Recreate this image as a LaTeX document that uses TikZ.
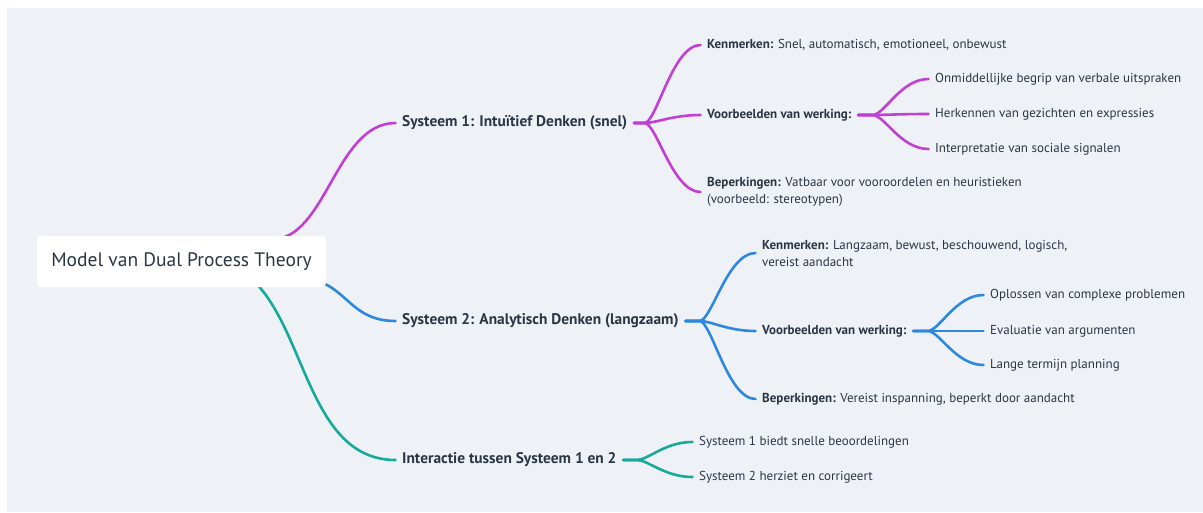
\documentclass[tikz,border=0pt]{standalone}
\usepackage{fontspec}
\setmainfont{PT Sans}
\usetikzlibrary{calc}

\definecolor{panelgray}{HTML}{EEF2F6}
\definecolor{ink}{HTML}{2B3645}
\definecolor{mmPurple}{HTML}{C23FD3}
\definecolor{mmBlue}{HTML}{2E88DF}
\definecolor{mmTeal}{HTML}{17A99A}

\pgfdeclarelayer{panel}
\pgfdeclarelayer{wires}
\pgfsetlayers{panel,wires,main}

\tikzset{
  txt/.style={anchor=west, inner xsep=6.5pt, inner ysep=2pt, text=ink,
    font=\fontsize{13}{17}\selectfont, align=left},
  topic/.style={txt, font=\fontsize{15.4}{18}\selectfont\bfseries},
  rootbox/.style={fill=white, rounded corners=4pt, minimum width=289pt,
    minimum height=51pt, text=ink, font=\fontsize{19.5}{22}\selectfont},
  wire/.style={line width=2.6pt, line cap=round, draw=#1},
  % straight stub from the parent, then an S-bend into the child
  fan/.style={to path={let \p1=(\tikztostart), \p2=(\tikztotarget) in
    -- (\x2-56pt,\y1) .. controls +(12pt,0) and +(-28pt,0) .. (\tikztotarget) \tikztonodes}},
}

\begin{document}
\begin{tikzpicture}[x=1pt,y=-1pt]
\useasboundingbox (0,0) rectangle (1203,512);
\begin{pgfonlayer}{panel}
  \fill[panelgray] (7,8) rectangle (1203,512);
\end{pgfonlayer}

% central topic
\node[rootbox] (root) at (181.5,261.5) {Model van Dual Process Theory};

% main branches
\node[topic] (s1) at (395.5,123) {Systeem 1: Intuïtief Denken (snel)};
\node[topic] (s2) at (395.5,321) {Systeem 2: Analytisch Denken (langzaam)};
\node[topic] (s3) at (395.5,460) {Interactie tussen Systeem 1 en 2};

% system 1
\node[txt] (k1) at (700.5,45) {\textbf{Kenmerken:} Snel, automatisch, emotioneel, onbewust};
\node[txt] (v1) at (700.5,115) {\textbf{Voorbeelden van werking:}};
\node[txt] (b1) at (700.5,192) {\textbf{Beperkingen:} Vatbaar voor vooroordelen en heuristieken\\(voorbeeld: stereotypen)};
\node[txt] (v1a) at (928.5,79) {Onmiddellijke begrip van verbale uitspraken};
\node[txt] (v1b) at (928.5,114) {Herkennen van gezichten en expressies};
\node[txt] (v1c) at (928.5,149) {Interpretatie van sociale signalen};

% system 2
\node[txt] (k2) at (755.5,253) {\textbf{Kenmerken:} Langzaam, bewust, beschouwend, logisch,\\vereist aandacht};
\node[txt] (v2) at (755.5,331) {\textbf{Voorbeelden van werking:}};
\node[txt] (b2) at (755.5,399) {\textbf{Beperkingen:} Vereist inspanning, beperkt door aandacht};
\node[txt] (v2a) at (983.5,295) {Oplossen van complexe problemen};
\node[txt] (v2b) at (983.5,331) {Evaluatie van argumenten};
\node[txt] (v2c) at (983.5,365) {Lange termijn planning};

% interaction
\node[txt] (i1) at (692.5,442) {Systeem 1 biedt snelle beoordelingen};
\node[txt] (i2) at (692.5,477) {Systeem 2 herziet en corrigeert};

\begin{pgfonlayer}{wires}
  % from the central topic (starting behind the box)
  \draw[wire=mmPurple] ($(root.center)+(90,-22)$) .. controls +(55,0) and +(-60,0) .. (s1.west);
  \draw[wire=mmBlue]   ($(root.center)+(115.5,16.5)$) .. controls +(50,0) and +(-50,0) .. (s2.west);
  \draw[wire=mmTeal]   ($(root.center)+(23,-0.5)$) .. controls +(105,0) and +(-107,0) .. (s3.west);

  \draw[wire=mmPurple] (s1.east) to[fan] (k1.west);
  \draw[wire=mmPurple] (s1.east) to[fan] (v1.west);
  \draw[wire=mmPurple] (s1.east) to[fan] (b1.west);
  \draw[wire=mmPurple] (v1.east) to[fan] (v1a.west);
  \draw[wire=mmPurple] (v1.east) to[fan] (v1b.west);
  \draw[wire=mmPurple] (v1.east) to[fan] (v1c.west);

  \draw[wire=mmBlue] (s2.east) to[fan] (k2.west);
  \draw[wire=mmBlue] (s2.east) to[fan] (v2.west);
  \draw[wire=mmBlue] (s2.east) to[fan] (b2.west);
  \draw[wire=mmBlue] (v2.east) to[fan] (v2a.west);
  \draw[wire=mmBlue] (v2.east) to[fan] (v2b.west);
  \draw[wire=mmBlue] (v2.east) to[fan] (v2c.west);

  \draw[wire=mmTeal] (s3.east) to[fan] (i1.west);
  \draw[wire=mmTeal] (s3.east) to[fan] (i2.west);
\end{pgfonlayer}
\end{tikzpicture}
\end{document}
